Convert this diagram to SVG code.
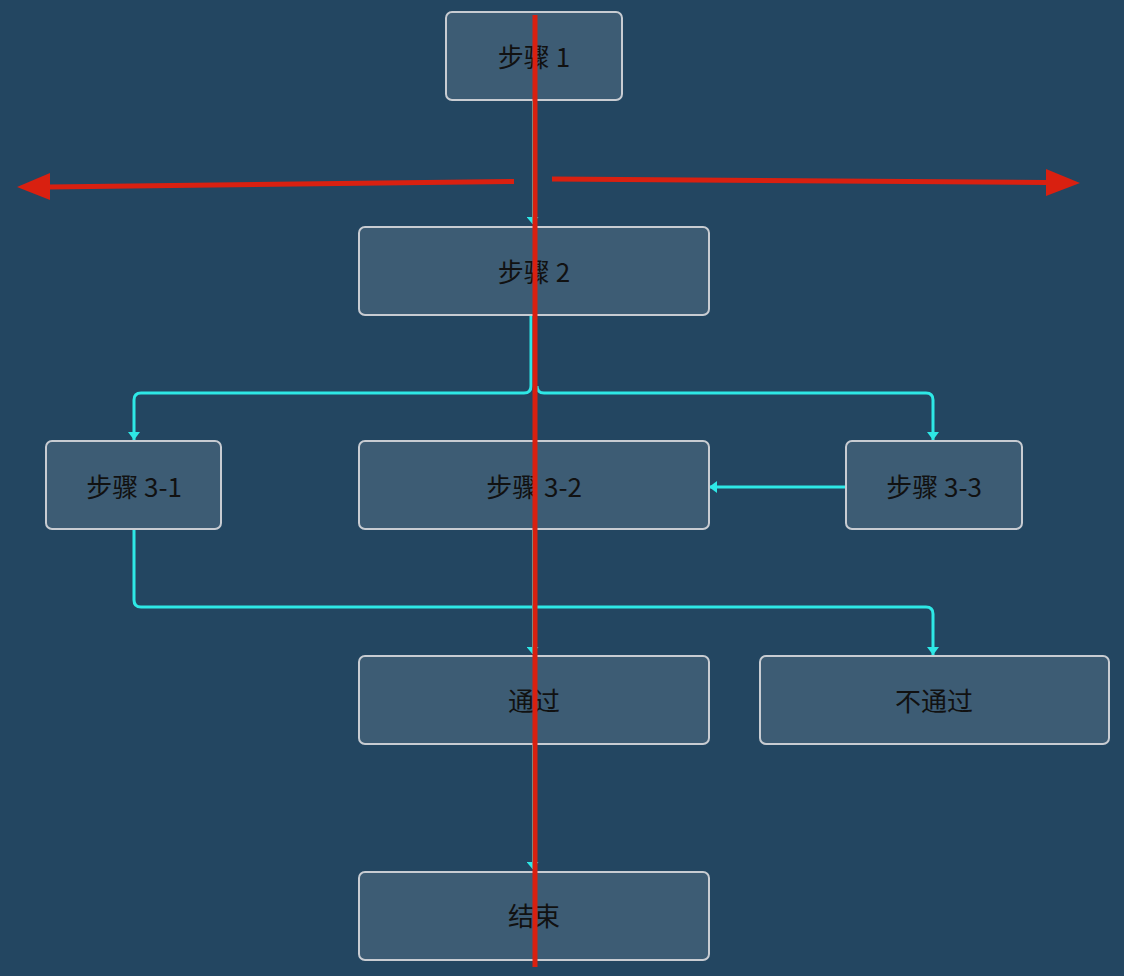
<svg xmlns="http://www.w3.org/2000/svg" width="1124" height="976" viewBox="0 0 1124 976">
<defs>
<style>
.node rect{fill:#3d5c74;stroke:#c8ccd2;stroke-width:2}
.node text{font-family:"Noto Sans CJK SC","Liberation Sans",sans-serif;font-size:26px;fill:#111;text-anchor:middle;dominant-baseline:central}
.c{fill:none;stroke:#2ee8e6;stroke-width:3;stroke-linejoin:round}
.t{fill:none;stroke:#2ee8e6;stroke-width:1}
.red{stroke:#d92010;stroke-width:5;fill:none}
</style>
<marker id="a" viewBox="0 0 7 12" refX="7" refY="6" markerWidth="7" markerHeight="12" markerUnits="userSpaceOnUse" orient="auto">
<path d="M0,0 L7,6 L0,12 Z" fill="#2ee8e6"/>
</marker>
<marker id="b" viewBox="0 0 8 12" refX="8" refY="6" markerWidth="8" markerHeight="12" markerUnits="userSpaceOnUse" orient="auto">
<path d="M0,0 L8,6 L0,12 Z" fill="#2ee8e6"/>
</marker>
</defs>
<rect width="1124" height="976" fill="#234661"/>
<g id="connectors">
<path class="t" d="M532.5,101 V224" marker-end="url(#a)"/>
<path class="c" d="M531,316 V386 Q531,393 524,393 H141 Q134,393 134,400 V440" marker-end="url(#b)"/>
<path class="c" d="M537,386 Q537,393 544,393 H926 Q933,393 933,400 V440" marker-end="url(#b)"/>
<path class="c" d="M846,487 H709" marker-end="url(#b)"/>
<path class="c" d="M134,530 V600 Q134,607 141,607 H926 Q933,607 933,614 V655" marker-end="url(#b)"/>
<path class="t" d="M532.5,530 V654" marker-end="url(#a)"/>
<path class="t" d="M532.5,745 V869" marker-end="url(#a)"/>
</g>
<g id="n1" class="node"><rect x="446" y="12" width="176" height="88" rx="6"/><text x="534" y="55">步骤 1</text></g>
<g id="n2" class="node"><rect x="359" y="227" width="350" height="88" rx="6"/><text x="534" y="270">步骤 2</text></g>
<g id="n31" class="node"><rect x="46" y="441" width="175" height="88" rx="6"/><text x="134" y="485">步骤 3-1</text></g>
<g id="n32" class="node"><rect x="359" y="441" width="350" height="88" rx="6"/><text x="534" y="485">步骤 3-2</text></g>
<g id="n33" class="node"><rect x="846" y="441" width="176" height="88" rx="6"/><text x="934" y="485">步骤 3-3</text></g>
<g id="pass" class="node"><rect x="359" y="656" width="350" height="88" rx="6"/><text x="534" y="699">通过</text></g>
<g id="fail" class="node"><rect x="760" y="656" width="349" height="88" rx="6"/><text x="934" y="699">不通过</text></g>
<g id="end" class="node"><rect x="359" y="872" width="350" height="88" rx="6"/><text x="534" y="914">结束</text></g>
<g id="overlay">
<path class="red" d="M535,15 V967" stroke-width="4"/>
<path class="red" d="M514,181.5 L48,187"/>
<path d="M17,187 L50,173 L50,200 Z" fill="#d92010"/>
<path class="red" d="M552,179 L1047,182.5"/>
<path d="M1080,183 L1046,169 L1046,196 Z" fill="#d92010"/>
</g>
</svg>
